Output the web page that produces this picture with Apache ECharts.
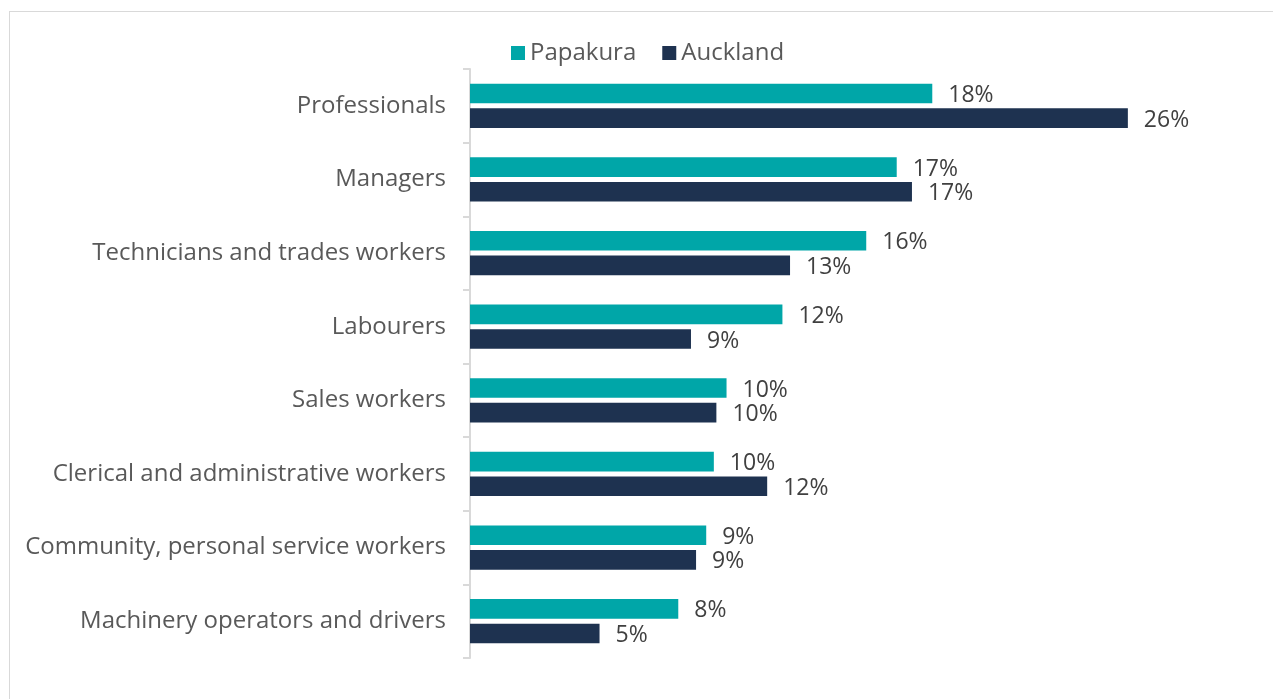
<!DOCTYPE html>
<html>
<head>
<meta charset="utf-8">
<script src="https://cdn.jsdelivr.net/npm/echarts@6/dist/echarts.min.js"></script>
<style>
    html, body { margin: 0; padding: 0; background: #fff; }
    #frame { position: absolute; left: 9px; top: 11px; width: 1300px; height: 720px; border: 1px solid #d9d9d9; box-sizing: border-box; }
    #szChart { position: absolute; left: 0; top: 0; width: 1273px; height: 699px; }
</style>
</head>
<body>
<div id="frame"></div>
<div id="szChart"></div>
<script>
// occupations, top to bottom
var categories = [
    'Professionals',
    'Managers',
    'Technicians and trades workers',
    'Labourers',
    'Sales workers',
    'Clerical and administrative workers',
    'Community, personal service workers',
    'Machinery operators and drivers'
];
// share of employed people, %
var papakura = [18.2, 16.8, 15.6, 12.3, 10.1, 9.6, 9.3, 8.2];
var auckland = [25.9, 17.4, 12.6, 8.7, 9.7, 11.7, 8.9, 5.1];
var seriesNames = ['Papakura', 'Auckland'];

var fontName = 'Open Sans';
var valueLabel = {
    show: true,
    position: 'right',
    distance: 16,
    offset: [0, 2],
    fontFamily: fontName,
    fontSize: 23,
    color: '#404040',
    formatter: function (p) {
        return Math.round(p.value) + '%';
    }
};

var option = {
    animation: false,
    legend: {
        data: seriesNames,
        top: 36,
        left: 506,
        itemWidth: 14,
        itemHeight: 14,
        itemGap: 26,
        icon: 'rect',
        textStyle: {fontFamily: fontName, fontSize: 24, color: '#595959'}
    },
    grid: {
        left: 470,
        right: 41,
        top: 69,
        bottom: 41,
        containLabel: false
    },
    xAxis: {
        type: 'value',
        min: 0,
        max: 30,
        show: false,
        splitLine: {show: false}
    },
    yAxis: {
        type: 'category',
        data: categories,
        inverse: true,
        axisLine: {lineStyle: {color: '#d9d9d9', width: 2}},
        axisTick: {show: true, length: 7, lineStyle: {color: '#d9d9d9', width: 2}},
        axisLabel: {fontFamily: fontName, fontSize: 24, color: '#595959', margin: 24}
    },
    series: [{
        name: seriesNames[0],
        type: 'bar',
        data: papakura,
        barGap: '25%',
        barCategoryGap: '40%',
        itemStyle: {color: '#00a6a8'},
        label: valueLabel
    }, {
        name: seriesNames[1],
        type: 'bar',
        data: auckland,
        barGap: '25%',
        barCategoryGap: '40%',
        itemStyle: {color: '#1e3250'},
        label: valueLabel
    }]
};
var szChart = echarts.init(document.getElementById('szChart'));
szChart.setOption(option);
</script>
</body>
</html>
